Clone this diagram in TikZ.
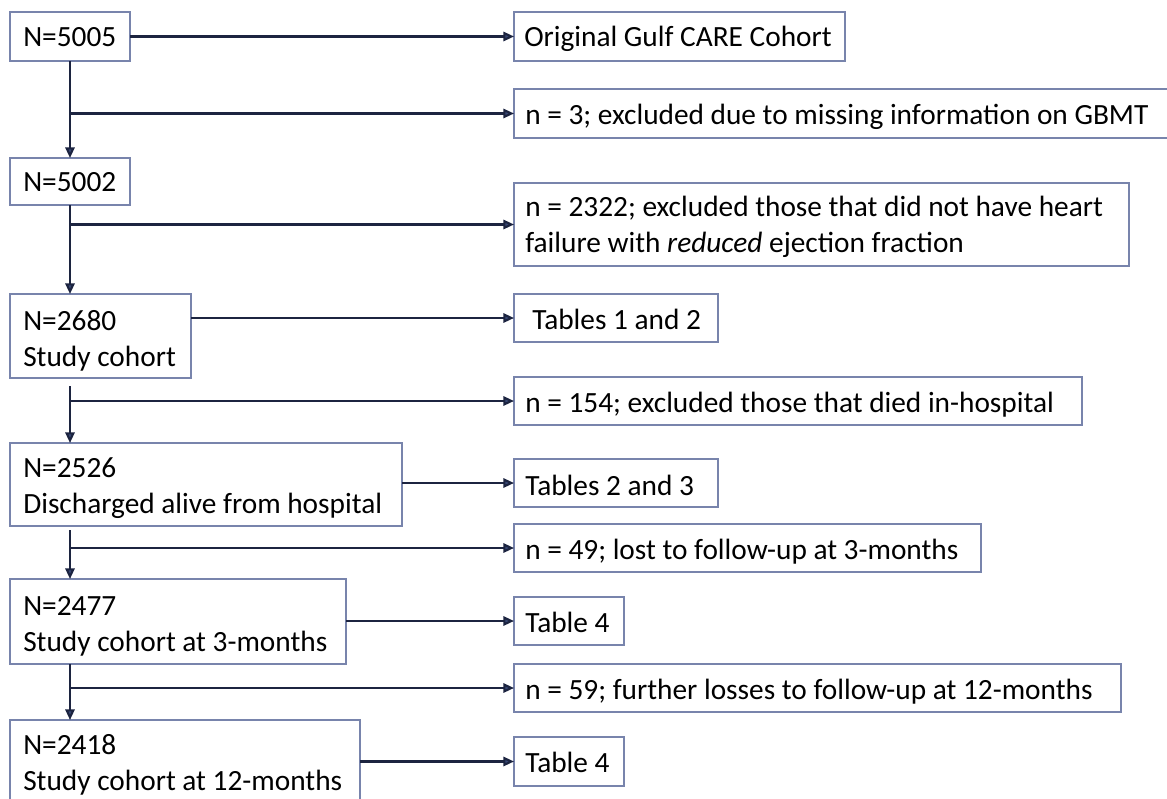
\documentclass[tikz,border=0pt]{standalone}
\usepackage{fontspec}
\setmainfont{Carlito}
\usetikzlibrary{arrows.meta}
\definecolor{boxline}{RGB}{120,132,172}
\definecolor{arrline}{RGB}{28,36,64}
\definecolor{tipfill}{RGB}{55,70,115}
\tikzset{
  boxst/.style={draw=boxline, line width=1pt, anchor=north west, inner sep=0pt, outer sep=0pt},
  txt/.style={anchor=base west, inner sep=0pt, align=left, text=black,
    font=\fontsize{22}{27}\selectfont},
  arr/.style={draw=arrline, line width=1.6pt,
    -{Triangle[length=8pt,width=7pt,fill=tipfill]}}
}
\newcommand\flowbox[5]{%
  \pgfmathsetmacro\fbw{(#4-#2)*0.75}%
  \pgfmathsetmacro\fbh{(#5-#3)*0.75}%
  \node[boxst, minimum width=\fbw pt, minimum height=\fbh pt] (#1) at (#2,#3) {};}
\begin{document}
\begin{tikzpicture}[x=0.75pt,y=-0.75pt]
\useasboundingbox (0,0) rectangle (1167,799);
% boxes: name, left, top, right, bottom
\flowbox{a}{10}{12}{130}{61}
\flowbox{o1}{514}{12}{845}{61}
\flowbox{x1}{514}{89}{1175}{138}
\flowbox{b}{10}{158}{130}{205}
\flowbox{x2}{514}{183}{1129}{266}
\flowbox{c}{10}{294}{191}{378}
\flowbox{o2}{514}{294}{718}{342}
\flowbox{x3}{514}{377}{1082}{425}
\flowbox{d}{10}{443}{402}{526}
\flowbox{o3}{514}{459}{718}{507}
\flowbox{x4}{514}{524}{981}{572}
\flowbox{e}{10}{579}{346}{664}
\flowbox{o4}{514}{597}{624}{645}
\flowbox{x5}{514}{664}{1121}{712}
\flowbox{f}{10}{720}{360}{815}
\flowbox{o5}{514}{737}{624}{786}
% texts (two-line texts are placed by their last baseline)
\node[txt] (ta) at (23,47) {N=5005};
\node[txt] (to1) at (524,47) {Original Gulf CARE Cohort};
\node[txt] (tx1) at (525,124) {n = 3; excluded due to missing information on GBMT};
\node[txt] (tb) at (23,191) {N=5002};
\node[txt] (tx2) at (525,252) {n = 2322; excluded those that did not have heart\\failure with \textit{reduced} ejection fraction};
\node[txt] (tc) at (23,366) {N=2680\\Study cohort};
\node[txt] (to2) at (532,329) {Tables 1 and 2};
\node[txt] (tx3) at (525,412) {n = 154; excluded those that died in-hospital};
\node[txt] (td) at (23,513) {N=2526\\Discharged alive from hospital};
\node[txt] (to3) at (525,495) {Tables 2 and 3};
\node[txt] (tx4) at (525,559) {n = 49; lost to follow-up at 3-months};
\node[txt] (te) at (23,651) {N=2477\\Study cohort at 3-months};
\node[txt] (to4) at (525,632) {Table 4};
\node[txt] (tx5) at (525,699) {n = 59; further losses to follow-up at 12-months};
\node[txt] (tf) at (23,790) {N=2418\\Study cohort at 12-months};
\node[txt] (to5) at (525,772) {Table 4};
% trunk start points
\coordinate (v1) at (70,61);
\coordinate (v2) at (70,205);
\coordinate (v3) at (70,386);
\coordinate (v4) at (70,530);
\coordinate (v5) at (70,664);
% connectors
\draw[arr] (a.east |- o1.west) -- (o1.west);
\draw[arr] (v1) -- (v1 |- b.north);
\draw[arr] (v1 |- x1.west) -- (x1.west);
\draw[arr] (v2) -- (v2 |- c.north);
\draw[arr] (v2 |- x2.west) -- (x2.west);
\draw[arr] (c.east |- o2.west) -- (o2.west);
\draw[arr] (v3) -- (v3 |- d.north);
\draw[arr] (v3 |- x3.west) -- (x3.west);
\draw[arr] (d.east |- o3.west) -- (o3.west);
\draw[arr] (v4) -- (v4 |- e.north);
\draw[arr] (v4 |- x4.west) -- (x4.west);
\draw[arr] (e.east |- o4.west) -- (o4.west);
\draw[arr] (v5) -- (v5 |- f.north);
\draw[arr] (v5 |- x5.west) -- (x5.west);
\draw[arr] (f.east |- o5.west) -- (o5.west);
\end{tikzpicture}
\end{document}
